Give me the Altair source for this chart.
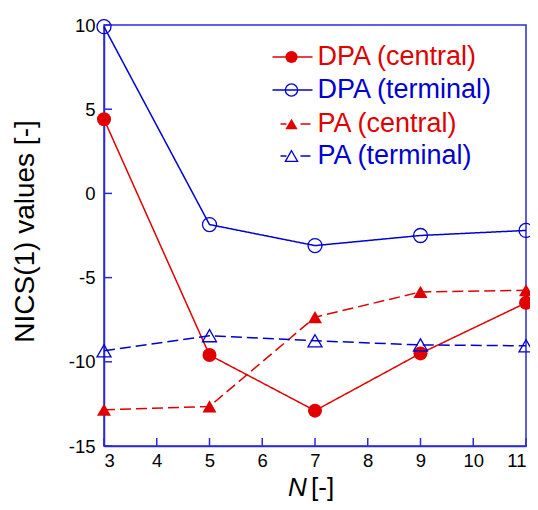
import altair as alt
import pandas as pd

N = [3, 5, 7, 9, 11]
dpa_central = [4.4, -9.6, -12.9, -9.5, -6.5]
dpa_terminal = [9.9, -1.85, -3.1, -2.5, -2.2]
pa_central = [-12.85, -12.65, -7.35, -5.85, -5.75]
pa_terminal = [-9.35, -8.45, -8.75, -9.0, -9.05]

series_names = ["DPA (central)", "DPA (terminal)", "PA (central)", "PA (terminal)"]
x_ticks = [3, 4, 5, 6, 7, 8, 9, 10, 11]
y_ticks = [-15, -10, -5, 0, 5, 10]

RED = "#e00000"
BLUE = "#0000d0"
FRAME = "#2a2ad8"
FONT = "Liberation Sans"

W, H = 422, 421

styles = [
    dict(color=RED, dash=[1, 0], shape="circle", filled=True, size=196),
    dict(color=BLUE, dash=[1, 0], shape="circle", filled=False, size=196),
    dict(color=RED, dash=[11, 5], shape="triangle-up", filled=True, size=196),
    dict(color=BLUE, dash=[11, 5], shape="triangle-up", filled=False, size=196),
]
values = [dpa_central, dpa_terminal, pa_central, pa_terminal]

xscale = alt.Scale(domain=[3, 11], nice=False, zero=False)
yscale = alt.Scale(domain=[-15, 10], nice=False, zero=False)

xaxis = alt.Axis(values=x_ticks, ticks=False, grid=False, domainColor=FRAME, domainWidth=1.5,
                 labelFont=FONT, labelFontSize=18.5, labelColor="black", labelPadding=5,
                 labelExpr="'' + datum.value", title=None)
yaxis = alt.Axis(values=y_ticks, ticks=False, grid=False, domainColor=FRAME, domainWidth=1.5,
                 labelFont=FONT, labelFontSize=18.5, labelColor="black", labelPadding=9,
                 labelExpr="'' + datum.value",
                 title="NICS(1) values [-]", titleFont=FONT, titleFontSize=28,
                 titleFontWeight="normal", titleColor="black", titleX=-79, titleY=206,
                 titleAlign="center", titleBaseline="middle", titleAngle=-90)

layers = []
for name, vals, st in zip(series_names, values, styles):
    df = pd.DataFrame({"N": N, "v": vals, "s": name})
    base = alt.Chart(df)
    layers.append(base.mark_line(color=st["color"], strokeWidth=1.5, strokeDash=st["dash"]).encode(
        x=alt.X("N:Q", scale=xscale, axis=xaxis),
        y=alt.Y("v:Q", scale=yscale, axis=yaxis),
    ))
for name, vals, st in zip(series_names, values, styles):
    df = pd.DataFrame({"N": N, "v": vals, "s": name})
    base = alt.Chart(df)
    if st["filled"]:
        mk = base.mark_point(shape=st["shape"], filled=True, fill=st["color"], stroke=None,
                             size=st["size"], opacity=1)
    else:
        mk = base.mark_point(shape=st["shape"], filled=False, stroke=st["color"],
                             strokeWidth=1.3, size=st["size"], opacity=1)
    layers.append(mk.encode(x=alt.X("N:Q", scale=xscale), y=alt.Y("v:Q", scale=yscale)))

# inward axis ticks
xt = pd.DataFrame({"t": x_ticks})
layers.append(alt.Chart(xt).mark_tick(orient="vertical", size=8, thickness=1.5, color=FRAME,
                                      yOffset=-4, opacity=1).encode(
    x=alt.X("t:Q", scale=xscale), y=alt.datum(-15)))
yt = pd.DataFrame({"t": y_ticks})
layers.append(alt.Chart(yt).mark_tick(orient="horizontal", size=8, thickness=1.5, color=FRAME,
                                      xOffset=4, opacity=1).encode(
    y=alt.Y("t:Q", scale=yscale), x=alt.datum(3)))

# x title with italic N
dummy = pd.DataFrame({"a": [0]})
layers.append(alt.Chart(dummy).mark_text(font=FONT, fontSize=26, fontStyle="italic", color="black",
                                         align="left", baseline="alphabetic").encode(
    x=alt.value(184), y=alt.value(471), text=alt.value("N")))
layers.append(alt.Chart(dummy).mark_text(font=FONT, fontSize=26, color="black",
                                         align="left", baseline="alphabetic").encode(
    x=alt.value(207), y=alt.value(471), text=alt.value("[-]")))

# legend
leg_y = [32, 65, 99, 131]
for name, st, ly in zip(series_names, styles, leg_y):
    if st["dash"] == [1, 0]:
        segs = [(168.5, 208.5)]
    else:
        segs = [(176.5, 182.5), (196.5, 206.5)]
    for a, b in segs:
        layers.append(alt.Chart(dummy).mark_rule(color=st["color"], strokeWidth=1.5).encode(
            x=alt.value(a), x2=alt.value(b), y=alt.value(ly)))
    if st["filled"]:
        mk = alt.Chart(dummy).mark_point(shape=st["shape"], filled=True, fill=st["color"],
                                         size=150, opacity=1)
    else:
        mk = alt.Chart(dummy).mark_point(shape=st["shape"], filled=False, stroke=st["color"],
                                         strokeWidth=1.3, size=150, opacity=1)
    layers.append(mk.encode(x=alt.value(187.5), y=alt.value(ly)))
    layers.append(alt.Chart(dummy).mark_text(font=FONT, fontSize=27, color=st["color"],
                                             align="left", baseline="middle").encode(
        x=alt.value(213.5), y=alt.value(ly), text=alt.value(name)))

chart = alt.layer(*layers).properties(
    width=W, height=H,
    autosize=alt.AutoSizeParams(type="none"),
    padding={"left": 96, "top": 17, "right": 4, "bottom": 56},
).configure_view(stroke=FRAME, strokeWidth=1.5)

chart.save("out.html", embed_options={"renderer": "svg", "actions": False})
